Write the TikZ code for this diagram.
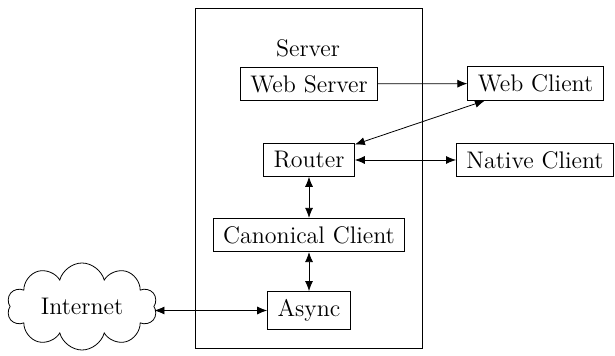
\documentclass[tikz,border=0pt]{standalone}
\usetikzlibrary{shapes.symbols,arrows.meta}
\begin{document}
\begin{tikzpicture}[x=0.5pt,y=-0.5pt,
  every node/.style={font=\fontsize{12}{14}\selectfont},
  block/.style={draw,inner xsep=5pt,inner ysep=4pt},
  link/.style={{Latex[length=5pt,width=4pt]}-{Latex[length=5pt,width=4pt]}},
  oneway/.style={-{Latex[length=5pt,width=4pt]}}]
\useasboundingbox (0,0) rectangle (615,356);
% server frame
\draw (195.5,8) rectangle (422,348);
\node (srvlabel) at (308,48) {Server};
\node[block] (websrv) at (309,84) {Web Server};
\node[block] (router) at (309,160) {Router};
\node[block] (canon) at (309,235) {Canonical Client};
\node[block] (async) at (309,310.5) {Async};
% outside parts
\node[block] (webcli) at (535.5,83.5) {Web Client};
\node[block] (native) at (535,160) {Native Client};
\node[draw,cloud,cloud puffs=10,cloud ignores aspect,minimum width=75pt,minimum height=43.5pt] (net) at (82,306.5) {Internet};
% connections
\draw[oneway] (websrv) -- (webcli);
\draw[link] (webcli) -- (router);
\draw[link] (router) -- (native);
\draw[link] (router) -- (canon);
\draw[link] (canon) -- (async);
\draw[link] (net.east |- async) -- (async);
\end{tikzpicture}
\end{document}
